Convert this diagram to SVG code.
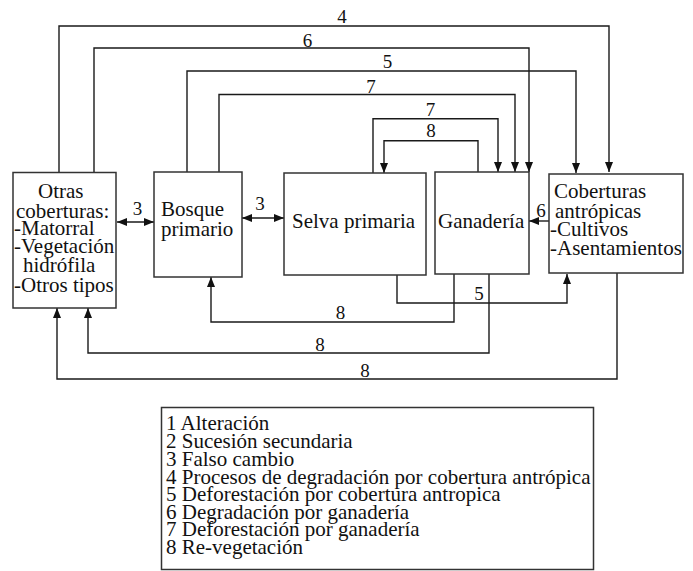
<svg xmlns="http://www.w3.org/2000/svg" width="693" height="571" viewBox="0 0 693 571">
<style>
.box{fill:#fff;stroke:#333;stroke-width:1.5}
.t{font-family:'Liberation Serif','DejaVu Serif',serif;font-size:21px;fill:#111}
.lg{font-family:'Liberation Serif','DejaVu Serif',serif;font-size:21px;fill:#111}
.lb{font-family:'Liberation Serif','DejaVu Serif',serif;font-size:19px;fill:#111;text-anchor:middle}
.c{fill:none;stroke:#1a1a1a;stroke-width:1.4}
.a{marker-end:url(#ah)}
.d{marker-start:url(#ah);marker-end:url(#ah)}
</style>
<defs>
<marker id="ah" markerUnits="userSpaceOnUse" markerWidth="11" markerHeight="9" refX="10" refY="4" orient="auto-start-reverse">
<path d="M0,0 L10,4 L0,8 z" fill="#111"/>
</marker>
</defs>
<rect width="693" height="571" fill="#fff"/>
<g id="connectors">
<path class="c a" d="M59,172 V26 H609 V172"/>
<path class="c a" d="M94,172 V48 H529 V172"/>
<path class="c a" d="M187,172 V71 H576 V173"/>
<path class="c a" d="M219,172 V94.5 H515 V172"/>
<path class="c a" d="M373,173 V118.7 H498 V172"/>
<path class="c a" d="M478,172 V140.7 H384 V173"/>
<path class="c d" d="M117,222 H154"/>
<path class="c d" d="M242,218 H284"/>
<path class="c a" d="M549,221 H529"/>
<path class="c a" d="M397,275 V303 H567 V274"/>
<path class="c a" d="M454,274 V322 H211 V277"/>
<path class="c a" d="M489,274 V353 H88 V308"/>
<path class="c a" d="M617,273 V379 H57 V308"/>
<text class="lb" x="342" y="23" font-family="Liberation Serif, serif">4</text>
<text class="lb" x="307.5" y="47">6</text>
<text class="lb" x="387.5" y="68">5</text>
<text class="lb" x="371" y="93">7</text>
<text class="lb" x="430.5" y="116">7</text>
<text class="lb" x="431" y="137">8</text>
<text class="lb" x="137.5" y="215">3</text>
<text class="lb" x="260" y="210">3</text>
<text class="lb" x="541" y="217">6</text>
<text class="lb" x="479" y="300">5</text>
<text class="lb" x="340.5" y="319">8</text>
<text class="lb" x="320" y="351">8</text>
<text class="lb" x="365" y="377">8</text>
</g>
<g id="otras">
<rect class="box" x="13" y="172.5" width="103" height="135.5"/>
<text class="t" x="38" y="198">Otras</text>
<text class="t" x="16" y="218">coberturas:</text>
<text class="t" x="14" y="235">-Matorral</text>
<text class="t" x="14" y="253">-Vegetación</text>
<text class="t" x="23" y="272">hidrófila</text>
<text class="t" x="14" y="292">-Otros tipos</text>
</g>
<g id="bosque">
<rect class="box" x="154" y="172" width="88" height="105"/>
<text class="t" x="161" y="216">Bosque</text>
<text class="t" x="161" y="236">primario</text>
</g>
<g id="selva">
<rect class="box" x="284" y="173" width="142" height="102"/>
<text class="t" x="292" y="228">Selva primaria</text>
</g>
<g id="ganaderia">
<rect class="box" x="435" y="172" width="94" height="102"/>
<text class="t" x="438" y="228">Ganadería</text>
</g>
<g id="coberturas">
<rect class="box" x="549" y="174" width="134" height="99"/>
<text class="t" x="554" y="198">Coberturas</text>
<text class="t" x="555" y="218">antrópicas</text>
<text class="t" x="550" y="236">-Cultivos</text>
<text class="t" x="550" y="255">-Asentamientos</text>
</g>
<g id="legend">
<rect class="box" x="161.5" y="407.5" width="432" height="162"/>
<text class="lg" x="166" y="430">1 Alteración</text>
<text class="lg" x="166" y="448">2 Sucesión secundaria</text>
<text class="lg" x="166" y="466">3 Falso cambio</text>
<text class="lg" x="166" y="484">4 Procesos de degradación por cobertura antrópica</text>
<text class="lg" x="166" y="501">5 Deforestación por cobertura antropica</text>
<text class="lg" x="166" y="519">6 Degradación por ganadería</text>
<text class="lg" x="166" y="536">7 Deforestación por ganadería</text>
<text class="lg" x="166" y="554">8 Re-vegetación</text>
</g>
</svg>
